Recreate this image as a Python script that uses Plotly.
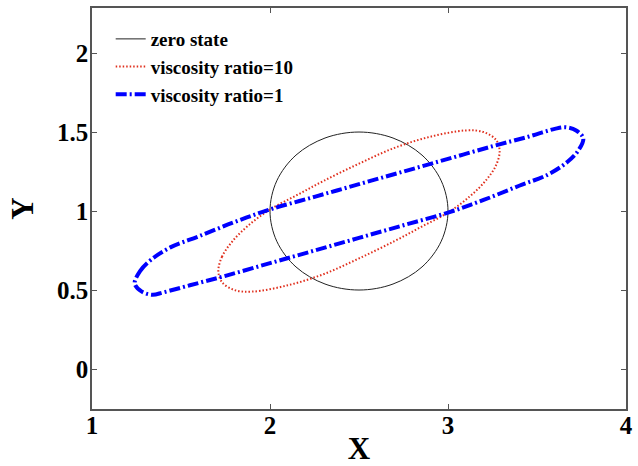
import plotly.graph_objects as go

# Undeformed drop outline (circle of radius 0.5 about (2.5, 1))
zero_x = [3.0, 2.962, 2.854, 2.691, 2.5, 2.309, 2.146, 2.038, 2.0,
          2.038, 2.146, 2.309, 2.5, 2.691, 2.854, 2.962, 3.0]
zero_y = [1.0, 1.191, 1.354, 1.462, 1.5, 1.462, 1.354, 1.191, 1.0,
          0.809, 0.646, 0.538, 0.5, 0.538, 0.646, 0.809, 1.0]

# Deformed drop, viscosity ratio = 10
vr10_x = [1.71, 1.73, 1.79, 1.88, 2.0, 2.15, 2.3, 2.5, 2.7, 2.9, 3.1, 3.2, 3.27,
          3.29, 3.27, 3.21, 3.12, 3.0, 2.85, 2.7, 2.5, 2.3, 2.1, 1.9, 1.8, 1.73, 1.71]
vr10_y = [0.62, 0.71, 0.81, 0.91, 1.01, 1.10, 1.19, 1.30, 1.40, 1.47, 1.51, 1.50, 1.45,
          1.38, 1.29, 1.19, 1.09, 0.99, 0.90, 0.81, 0.70, 0.60, 0.53, 0.49, 0.50, 0.55, 0.62]

# Deformed drop, viscosity ratio = 1
vr1_x = [1.24, 1.27, 1.33, 1.44, 1.6, 1.8, 2.0, 2.25, 2.5, 2.75, 3.0, 3.25, 3.45,
         3.6, 3.66, 3.72, 3.76, 3.73, 3.67, 3.56, 3.4, 3.2, 3.0, 2.75, 2.5, 2.25,
         2.0, 1.75, 1.55, 1.4, 1.34, 1.28, 1.24]
vr1_y = [0.54, 0.62, 0.69, 0.77, 0.84, 0.93, 1.01, 1.09, 1.17, 1.25, 1.33, 1.41, 1.47,
         1.52, 1.53, 1.51, 1.46, 1.38, 1.31, 1.23, 1.16, 1.07, 0.99, 0.91, 0.83, 0.75,
         0.67, 0.59, 0.53, 0.485, 0.47, 0.49, 0.54]

x_ticks = [1, 2, 3, 4]
y_ticks = [0, 0.5, 1, 1.5, 2]
y_tick_text = ["0", "0.5", "1", "1.5", "2"]

serif = "Liberation Serif"

fig = go.Figure()
fig.add_trace(go.Scatter(
    x=zero_x, y=zero_y, mode="lines", name="zero state",
    line=dict(color="#222222", width=1, shape="spline"),
))
fig.add_trace(go.Scatter(
    x=vr10_x, y=vr10_y, mode="lines", name="viscosity ratio=10",
    line=dict(color="#e0301e", width=2, dash="1.5px,2px", shape="spline"),
))
fig.add_trace(go.Scatter(
    x=vr1_x, y=vr1_y, mode="lines", name="viscosity ratio=1",
    line=dict(color="#0000ff", width=4, dash="11px,3px,2px,3px", shape="spline"),
))

axis_common = dict(
    showgrid=False, zeroline=False, automargin=False,
    showline=True, linecolor="#555555", linewidth=1.5, mirror="ticks",
    ticks="inside", ticklen=5, tickcolor="#555555", tickwidth=1,
    tickfont=dict(family=serif, size=25, color="black", weight="bold"),
)

fig.update_layout(
    width=638, height=466,
    margin=dict(l=92, r=12, t=8, b=57),
    paper_bgcolor="white", plot_bgcolor="white",
    xaxis=dict(range=[1, 4], tickvals=x_ticks, ticklabelstandoff=-7,
               title=dict(text="X", font=dict(family=serif, size=31, color="black", weight="bold"),
                          standoff=14),
               **axis_common),
    yaxis=dict(range=[-0.253, 2.285], tickvals=y_ticks, ticktext=y_tick_text,
               ticklabelstandoff=-3,
               title=dict(text="Y", font=dict(family=serif, size=31, color="black", weight="bold"),
                          standoff=14),
               **axis_common),
    legend=dict(x=0.035, y=0.97, xanchor="left", yanchor="top",
                bgcolor="rgba(0,0,0,0)", borderwidth=0,
                font=dict(family=serif, size=19, color="black", weight="bold"),
                tracegroupgap=0),
    showlegend=True,
)

fig.write_html("out.html")
